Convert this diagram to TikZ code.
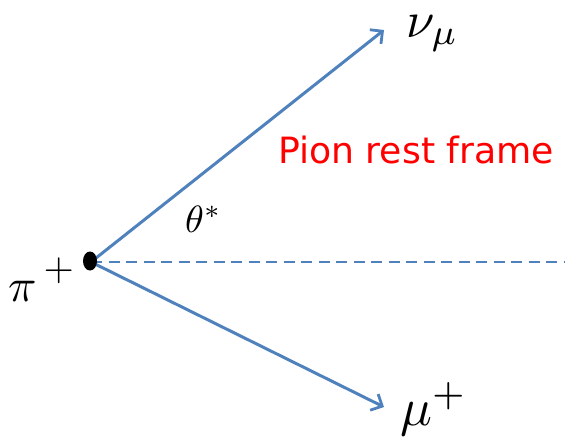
\documentclass[tikz,border=0pt]{standalone}
\usepackage{fontspec}
\newfontfamily\dejavu{DejaVu Sans}
\usetikzlibrary{arrows.meta,shapes.geometric}
\definecolor{lineblue}{RGB}{79,129,189}
\begin{document}
\begin{tikzpicture}[x=1pt,y=-1pt,
  particle/.style={draw=lineblue,line width=3pt,-{Straight Barb[length=9pt,width=18pt,line width=2.8pt]}},
  axisline/.style={draw=lineblue,line width=2pt,dash pattern=on 11pt off 6.5pt},
  lbl/.style={inner sep=0pt,anchor=base west}]
\useasboundingbox (0,0) rectangle (565,439);
\coordinate (o) at (91,262);
\coordinate (nutip) at (384,30);
\coordinate (mutip) at (384,407);
\coordinate (dashend) at (565,262);
\draw[axisline] (o) -- (dashend);
\draw[particle] (o) -- (nutip);
\draw[particle] (o) -- (mutip);
\node[ellipse,fill=black,minimum width=14pt,minimum height=19pt,inner sep=0pt] (pi) at (90,261) {};
\node[lbl] (pilabel) at (8,301) {\scalebox{4.7}{$\pi$}\kern7pt\raisebox{21pt}{\scalebox{3.9}{$+$}}};
\node[lbl] (nulabel) at (406,37) {\scalebox{5.1}{$\nu_{\mu}$}};
\node[lbl] (mulabel) at (400,425) {\scalebox{5.3}{$\mu^{+}$}};
\node[lbl] (theta) at (185,232) {\scalebox{3.8}{$\theta^{*}$}};
\node[lbl,text=red] (frame) at (278,163) {\dejavu\fontsize{36.2}{40}\selectfont Pion rest frame};
\end{tikzpicture}
\end{document}
